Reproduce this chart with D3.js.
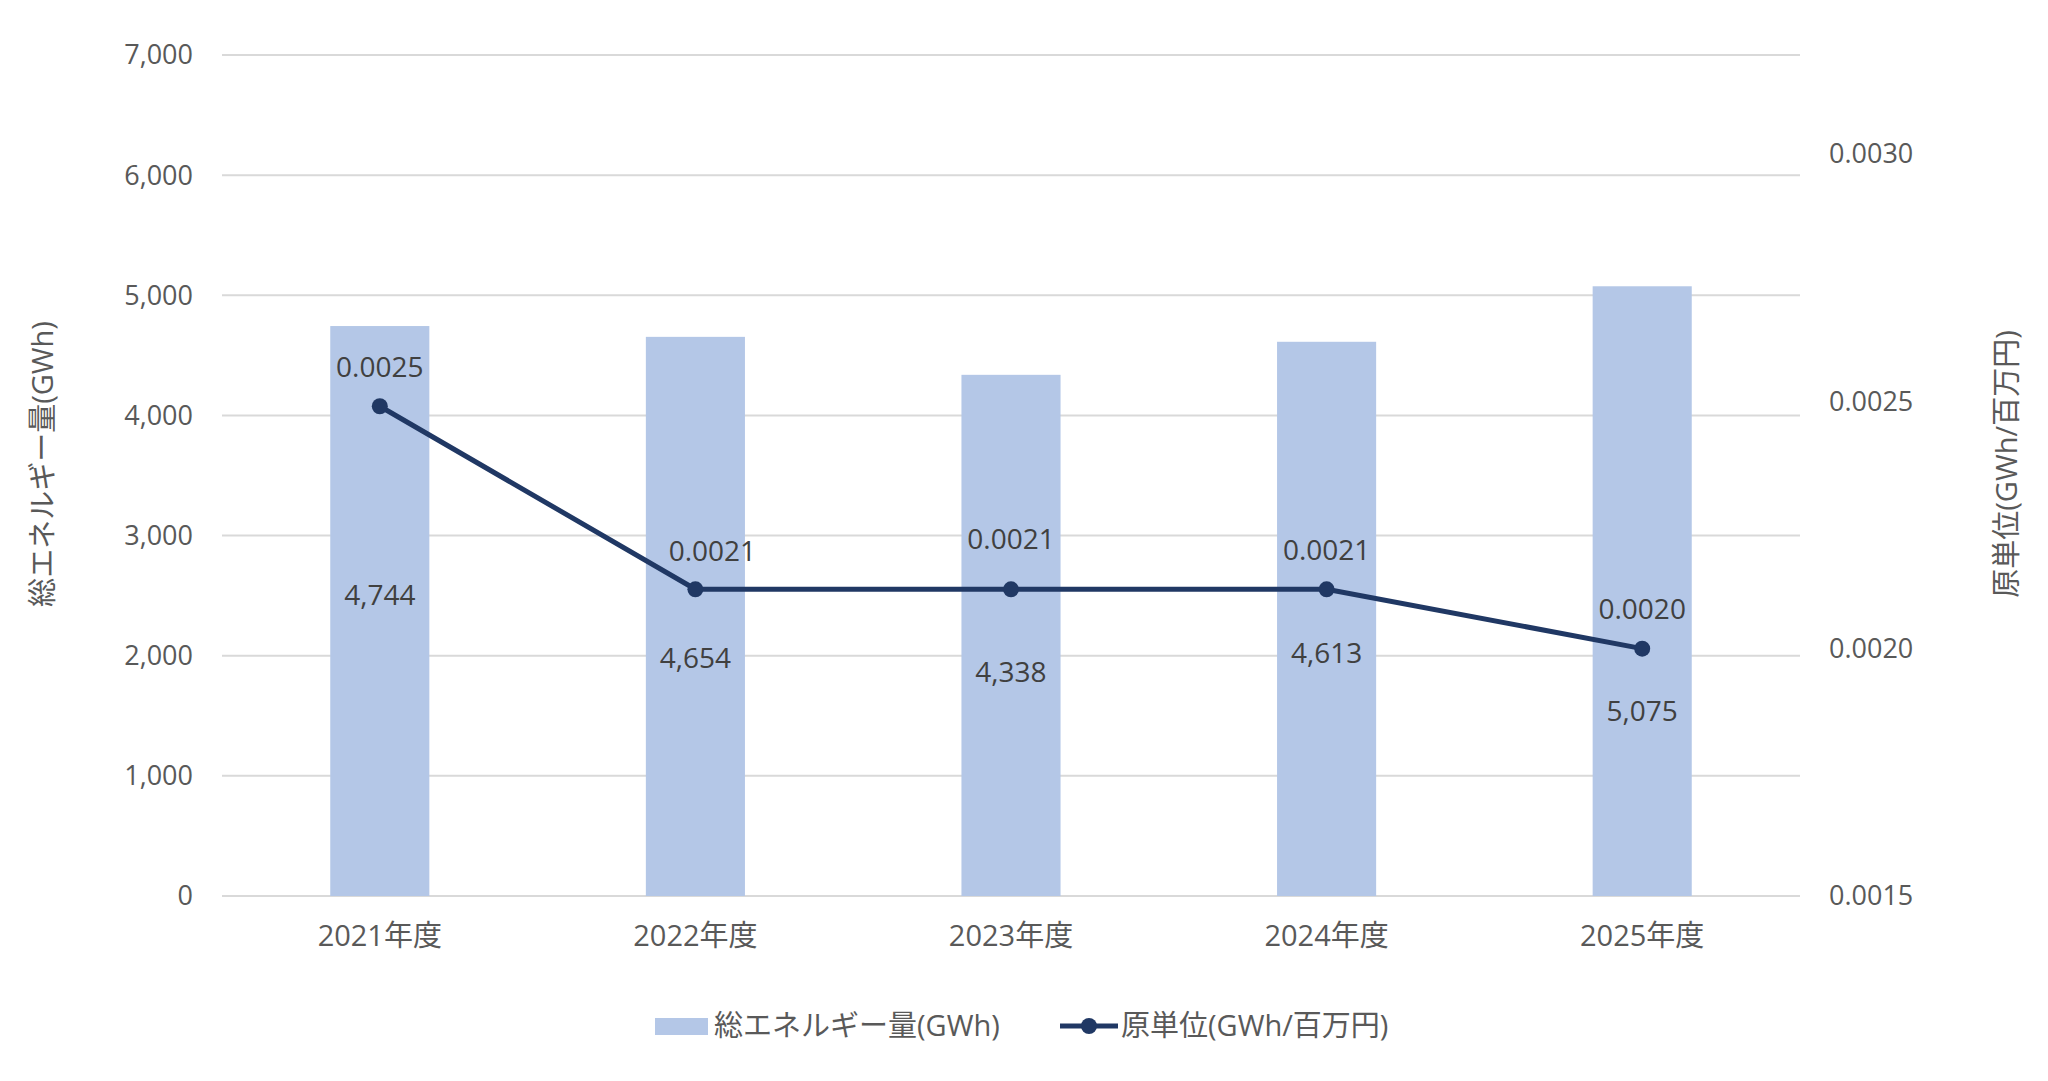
<!DOCTYPE html>
<html>
<head>
<meta charset="utf-8">
<script src="https://cdn.jsdelivr.net/npm/d3@7"></script>
<style>
  body { margin: 0; background: #fff; }
  text { font-family: "Segoe UI", "Open Sans", "Noto Sans CJK JP", sans-serif; }
</style>
</head>
<body>
<svg id="chart" width="2048" height="1081"></svg>
<script>
// ---- data
const years = ["2021年度", "2022年度", "2023年度", "2024年度", "2025年度"];
const energy = [4744, 4654, 4338, 4613, 5075];               // GWh
const intensity = [0.00249, 0.00212, 0.00212, 0.00212, 0.00200]; // GWh/百万円
const leftTicks = [0, 1000, 2000, 3000, 4000, 5000, 6000, 7000];
const rightTicks = [0.0015, 0.0020, 0.0025, 0.0030];

// label nudges (px), like manually dragged Excel labels
const barLabelDy = [189, 69, 83, 64, 63];
const lineLabelDy = [-39, -38, -50, -39, -39];
const lineLabelDx = [0, 17, 0, 0, 0];

const svg = d3.select("#chart");
const m = { left: 222, right: 1800, top: 55, bottom: 896 };

const x = d3.scaleBand().domain(years).range([m.left, m.right]).paddingInner(0.686).paddingOuter(0.343);
const y = d3.scaleLinear().domain([0, 7000]).range([m.bottom, m.top]);
const y2 = d3.scaleLinear().domain([0.0015, 0.0032]).range([m.bottom, m.top]);

const tickCol = "#595959", labelCol = "#404040";

//_________________ grid
svg.append("g").selectAll("line").data(leftTicks).enter().append("line")
  .attr("x1", m.left).attr("x2", m.right)
  .attr("y1", d => y(d)).attr("y2", d => y(d))
  .attr("stroke", "#d9d9d9").attr("stroke-width", 2);

//_________________ axes labels
svg.append("g").selectAll("text").data(leftTicks).enter().append("text")
  .attr("x", 193).attr("y", d => y(d)).attr("dy", "0.35em")
  .attr("text-anchor", "end").attr("font-size", 27).attr("fill", tickCol)
  .text(d3.format(","));

svg.append("g").selectAll("text").data(rightTicks).enter().append("text")
  .attr("x", 1829).attr("y", d => y2(d)).attr("dy", "0.35em")
  .attr("font-size", 27).attr("fill", tickCol)
  .text(d3.format(".4f"));

svg.append("g").selectAll("text").data(years).enter().append("text")
  .attr("x", d => x(d) + x.bandwidth() / 2).attr("y", 936).attr("dy", "0.35em")
  .attr("text-anchor", "middle").attr("font-size", 29).attr("fill", tickCol)
  .text(d => d);

svg.append("text")
  .attr("transform", "translate(43,464) rotate(-90)")
  .attr("text-anchor", "middle").attr("dy", "0.35em")
  .attr("font-size", 29).attr("fill", tickCol)
  .text("総エネルギー量(GWh)");

svg.append("text")
  .attr("transform", "translate(2007,464) rotate(-90)")
  .attr("text-anchor", "middle").attr("dy", "0.35em")
  .attr("font-size", 29).attr("fill", tickCol)
  .text("原単位(GWh/百万円)");

//_________________ bars
svg.append("g").selectAll("rect").data(energy).enter().append("rect")
  .attr("x", (d, i) => x(years[i]))
  .attr("y", d => y(d))
  .attr("width", x.bandwidth())
  .attr("height", d => y(0) - y(d))
  .attr("fill", "#b4c7e7");

//_________________ line
const cx = i => x(years[i]) + x.bandwidth() / 2;
const line = d3.line().x((d, i) => cx(i)).y(d => y2(d));

svg.append("path").datum(intensity)
  .attr("d", line).attr("fill", "none")
  .attr("stroke", "#203864").attr("stroke-width", 5).attr("stroke-linejoin", "round");

svg.append("g").selectAll("circle").data(intensity).enter().append("circle")
  .attr("cx", (d, i) => cx(i)).attr("cy", d => y2(d)).attr("r", 8)
  .attr("fill", "#203864");

//_________________ data labels
svg.append("g").selectAll("text").data(energy).enter().append("text")
  .attr("x", (d, i) => cx(i))
  .attr("y", (d, i) => y2(intensity[i]) + barLabelDy[i]).attr("dy", "0.35em")
  .attr("text-anchor", "middle").attr("font-size", 28).attr("fill", labelCol)
  .text(d3.format(","));

svg.append("g").selectAll("text").data(intensity).enter().append("text")
  .attr("x", (d, i) => cx(i) + lineLabelDx[i])
  .attr("y", (d, i) => y2(d) + lineLabelDy[i]).attr("dy", "0.35em")
  .attr("text-anchor", "middle").attr("font-size", 28).attr("fill", labelCol)
  .text(d3.format(".4f"));

//_________________ legend
const lg = svg.append("g");
lg.append("rect").attr("x", 655).attr("y", 1018).attr("width", 53).attr("height", 17).attr("fill", "#b4c7e7");
lg.append("text").attr("x", 714).attr("y", 1026).attr("dy", "0.35em")
  .attr("font-size", 29).attr("fill", tickCol).text("総エネルギー量(GWh)");
lg.append("line").attr("x1", 1060).attr("x2", 1118).attr("y1", 1026).attr("y2", 1026)
  .attr("stroke", "#203864").attr("stroke-width", 5);
lg.append("circle").attr("cx", 1089).attr("cy", 1026).attr("r", 8).attr("fill", "#203864");
lg.append("text").attr("x", 1121).attr("y", 1026).attr("dy", "0.35em")
  .attr("font-size", 29).attr("fill", tickCol).text("原単位(GWh/百万円)");
</script>
</body>
</html>
